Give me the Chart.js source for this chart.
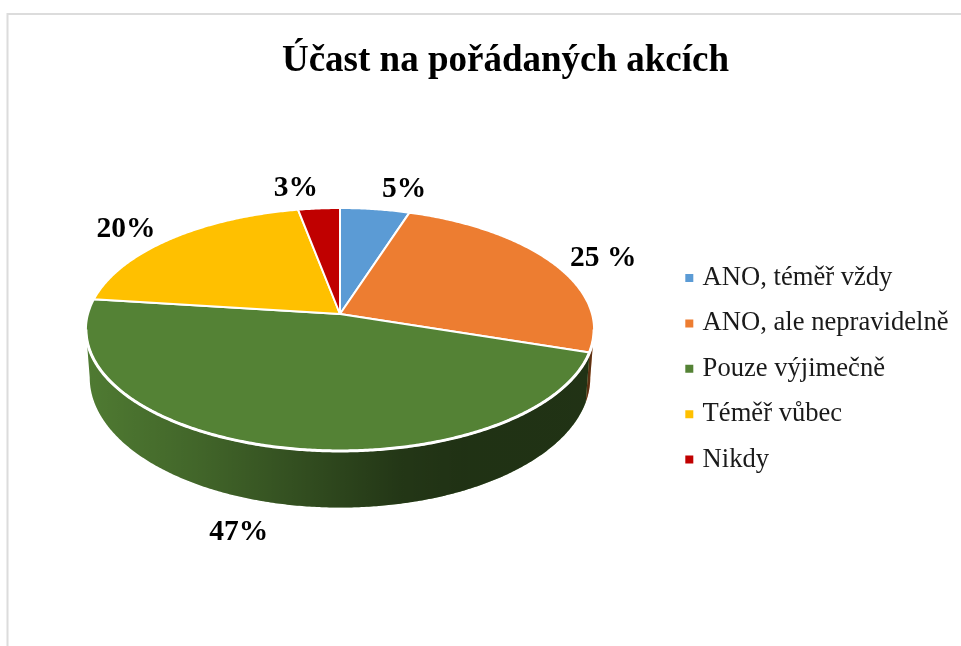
<!DOCTYPE html>
<html lang="cs">
<head>
<meta charset="utf-8">
<title>Účast na pořádaných akcích</title>
<style>html,body{margin:0;padding:0;background:#fff}canvas{display:block}</style>
<script src="https://cdn.jsdelivr.net/npm/chart.js@4/dist/chart.umd.min.js"></script>
</head>
<body>
<canvas id="c" width="961" height="646"></canvas>
<script>
const chartTitle = 'Účast na pořádaných akcích';
const categories = ['ANO, téměř vždy', 'ANO, ale nepravidelně', 'Pouze výjimečně', 'Téměř vůbec', 'Nikdy'];
const values = [5, 25, 47, 20, 3];
const valueLabels = ['5%', '25 %', '47%', '20%', '3%'];
const sliceColors = ['#5B9BD5', '#ED7D31', '#548235', '#FFC000', '#C00000'];

// Projection of the flat pie onto a tilted disc
const view = { cx: 340, cy: 314, k: 0.1275, A: 252, B: 119.5, bottomScale: 0.985, depth: 47, depthScale: 1.07 };
const labelShift = [[29, -20], [51, -4], [-38.5, 85], [-45, -9], [-23, -20]];

function topPoint(theta) {
  const u = Math.sin(theta), v = Math.cos(theta), d = 1 + view.k * v;
  return [view.cx + view.A * u / d, view.cy - view.B * v / d];
}
function bottomPoint(theta) {
  const u = Math.sin(theta), v = Math.cos(theta), d = 1 + view.k * v;
  return [view.cx + view.bottomScale * view.A * u / d, view.cy - view.depthScale * view.B * v / d + view.depth];
}
const frontEdge = Math.acos(-view.k);
const STEP = Math.PI / 360;

function sideShade(ctx) {
  const g = ctx.createLinearGradient(86, 0, 593, 0);
  g.addColorStop(0, 'rgba(0,0,0,0.06)');
  g.addColorStop(0.22, 'rgba(0,0,0,0.22)');
  g.addColorStop(0.42, 'rgba(0,0,0,0.40)');
  g.addColorStop(0.62, 'rgba(0,0,0,0.58)');
  g.addColorStop(0.74, 'rgba(0,0,0,0.62)');
  g.addColorStop(1, 'rgba(0,0,0,0.61)');
  return g;
}

Chart.ArcElement.prototype.draw = function (ctx) {
  const start = this.startAngle + Math.PI / 2;
  const end = this.endAngle + Math.PI / 2;
  const fill = this.options.backgroundColor;
  const a = Math.max(start, frontEdge), b = Math.min(end, 2 * Math.PI - frontEdge);
  ctx.save();
  if (b > a) {
    ctx.beginPath();
    for (let t = a; t < b; t += STEP) ctx.lineTo(...topPoint(t));
    ctx.lineTo(...topPoint(b));
    for (let t = b; t > a; t -= STEP) ctx.lineTo(...bottomPoint(t));
    ctx.lineTo(...bottomPoint(a));
    ctx.closePath();
    ctx.fillStyle = fill;
    ctx.fill();
    ctx.fillStyle = sideShade(ctx);
    ctx.fill();
  }
  ctx.beginPath();
  ctx.moveTo(view.cx, view.cy);
  for (let t = start; t < end; t += STEP) ctx.lineTo(...topPoint(t));
  ctx.lineTo(...topPoint(end));
  ctx.closePath();
  ctx.fillStyle = fill;
  ctx.fill();
  ctx.strokeStyle = '#fff';
  ctx.lineWidth = 2;
  ctx.lineJoin = 'round';
  ctx.stroke();
  if (b > a) {
    ctx.beginPath();
    for (let t = a; t < b; t += STEP) ctx.lineTo(...topPoint(t));
    ctx.lineTo(...topPoint(b));
    ctx.lineWidth = 3;
    ctx.stroke();
  }
  ctx.restore();
};

const framePlugin = {
  id: 'frame',
  beforeDraw(chart) {
    const ctx = chart.ctx;
    ctx.save();
    ctx.strokeStyle = '#dcdcdc';
    ctx.lineWidth = 2;
    ctx.beginPath();
    ctx.moveTo(7.5, 646);
    ctx.lineTo(7.5, 14);
    ctx.lineTo(961, 14);
    ctx.stroke();
    ctx.restore();
  }
};

const legendPlace = {
  id: 'legendPlace',
  afterLayout(chart) {
    chart.legend.left = 689.3 - 18.8;
    chart.legend.top = 245.9;
  }
};

const valueLabelPlugin = {
  id: 'valueLabels',
  afterDatasetsDraw(chart) {
    const ctx = chart.ctx;
    const arcs = chart.getDatasetMeta(0).data;
    ctx.save();
    ctx.font = 'bold 29.5px "Liberation Serif"';
    ctx.fillStyle = '#000';
    ctx.textAlign = 'center';
    ctx.textBaseline = 'middle';
    arcs.forEach((arc, i) => {
      const mid = (arc.startAngle + arc.endAngle) / 2 + Math.PI / 2;
      const p = topPoint(mid);
      ctx.fillText(valueLabels[i], p[0] + labelShift[i][0], p[1] + labelShift[i][1]);
    });
    ctx.restore();
  }
};

new Chart(document.getElementById('c'), {
  type: 'pie',
  data: {
    labels: categories,
    datasets: [{ data: values, backgroundColor: sliceColors, borderWidth: 0 }]
  },
  options: {
    responsive: false,
    animation: false,
    layout: { padding: { left: 50 } },
    plugins: {
      title: {
        display: true,
        text: chartTitle,
        color: '#000',
        font: { family: '"Liberation Serif"', size: 37, weight: 'bold' },
        padding: { top: 39, bottom: 10 }
      },
      legend: {
        position: 'right',
        align: 'start',
        labels: {
          usePointStyle: true,
          pointStyle: 'rect',
          boxWidth: 0.01,
          boxHeight: 8,
          padding: 18.8,
          color: '#1a1a1a',
          font: { family: '"Liberation Serif"', size: 26.6 }
        }
      },
      tooltip: { enabled: false }
    }
  },
  plugins: [framePlugin, legendPlace, valueLabelPlugin]
});
</script>
</body>
</html>
